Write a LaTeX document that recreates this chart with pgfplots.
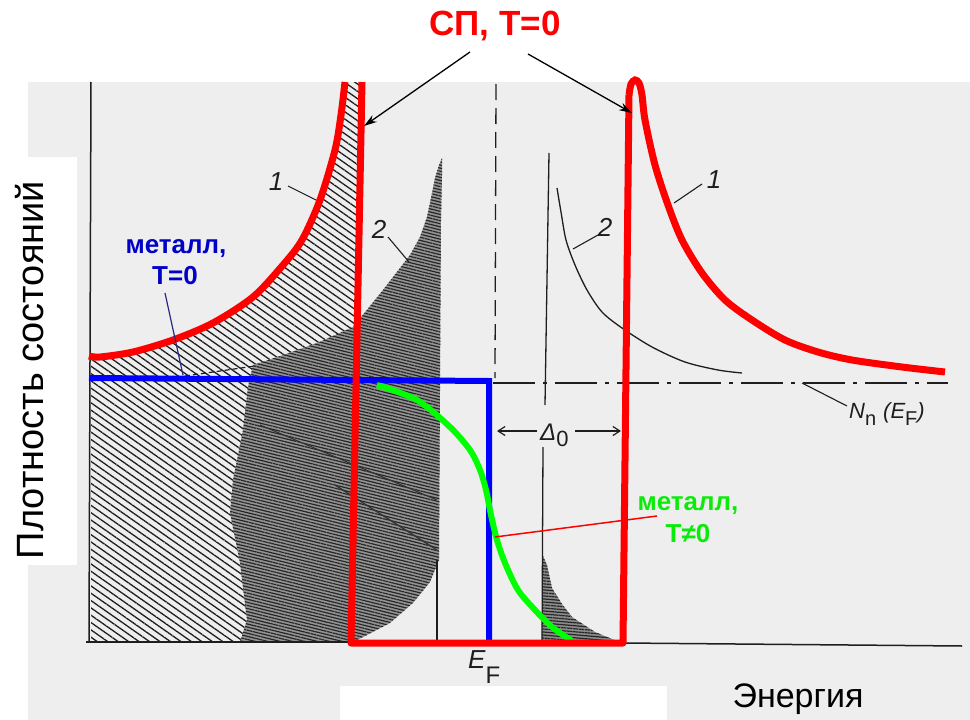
\documentclass[border=0pt]{standalone}
\usepackage{fontspec}
\setmainfont{Liberation Sans}
\usepackage{pgfplots}
\pgfplotsset{compat=1.18}
\usetikzlibrary{patterns.meta,arrows.meta}
\definecolor{bg}{RGB}{238,238,238}
\definecolor{myred}{RGB}{255,0,0}
\definecolor{myblue}{RGB}{0,0,255}
\definecolor{labblue}{RGB}{0,0,200}
\definecolor{mygreen}{RGB}{0,255,0}
\definecolor{labgreen}{RGB}{10,235,10}
\definecolor{navy}{RGB}{40,40,130}
\definecolor{ink}{RGB}{30,30,30}
\newcommand{\fs}[1]{\fontsize{#1}{#1}\selectfont}
\begin{document}
\begin{tikzpicture}
\begin{axis}[width=970pt,height=720pt,scale only axis,
  xmin=0,xmax=970,ymin=0,ymax=720,y dir=reverse,hide axis,clip=false]
% ---------- backgrounds
\addplot[draw=none,fill=white] coordinates {(0,0)(970,0)(970,720)(0,720)} -- cycle;
\addplot[draw=none,fill=bg] coordinates {(28,82)(970,82)(970,720)(28,720)} -- cycle;
\addplot[draw=none,fill=white] coordinates {(0,157)(77,157)(77,565)(0,565)} -- cycle;
\addplot[draw=none,fill=white] coordinates {(340,686)(667,686)(667,720)(340,720)} -- cycle;
% ---------- light hatched area (curve 1, below the gap)
\addplot[draw=none,pattern={Lines[angle=-35,distance=6pt,line width=1.3pt]},pattern color=ink]
 coordinates {(91,642)(91,358)(100,357)(133,352)(173,340)(213,323)(253,297)(283,265)(302,240)(320,200)(335,150)(341,115)(345,82)(360,82)(352,642)} -- cycle;
% ---------- dark hatched area (curve 2)
\addplot[draw=none,fill=black!42]
 coordinates {(253,365)(283,355)(317,343)(353,327)(383,290)(400,268)(410,255)(420,237)(427,217)(432,193)(435,178)(439,165)(442,158)(442,175)(441,220)(439,560)(430,582)(413,603)(390,623)(367,635)(353,642)(240,642)(247,620)(240,563)(230,513)(233,480)(243,430)(248,387)} -- cycle;
\addplot[draw=none,pattern={Lines[angle=-14,distance=3pt,line width=1.2pt]},pattern color=black!85]
 coordinates {(253,365)(283,355)(317,343)(353,327)(383,290)(400,268)(410,255)(420,237)(427,217)(432,193)(435,178)(439,165)(442,158)(442,175)(441,220)(439,560)(430,582)(413,603)(390,623)(367,635)(353,642)(240,642)(247,620)(240,563)(230,513)(233,480)(243,430)(248,387)} -- cycle;
% small dark area on the right
\addplot[draw=none,fill=black!45]
 coordinates {(543,556)(547,565)(552,588)(562,604)(572,617)(595,632)(612,639)(621,642)(542,642)} -- cycle;
\addplot[draw=none,pattern={Lines[angle=-5,distance=3pt,line width=1.2pt]},pattern color=black!85]
 coordinates {(543,556)(547,565)(552,588)(562,604)(572,617)(595,632)(612,639)(621,642)(542,642)} -- cycle;
% scan artefacts
\addplot[black!80,line width=1.3pt] coordinates {(335,485)(437,550)};
\addplot[black!80,line width=1.1pt] coordinates {(260,425)(437,500)};
\addplot[ink,line width=1.2pt,dash pattern=on 5pt off 3pt] coordinates {(185,376)(255,366)};
% ---------- black lines of the scanned figure
\addplot[ink,line width=1.5pt] coordinates {(91,82)(89,642)};
\addplot[ink,line width=1.5pt] coordinates {(86,642)(352,642)};
\addplot[ink,line width=1.5pt] coordinates {(623,643)(962,646)};
\addplot[ink,line width=1.3pt] coordinates {(437,560)(437,642)};
\addplot[ink,line width=1.3pt,dash pattern=on 16pt off 8pt] coordinates {(496,84)(495,378)};
\addplot[ink,line width=1.3pt,dash pattern=on 42pt off 8pt on 4pt off 8pt] coordinates {(493,383)(948,383)};
\addplot[ink,line width=1.3pt] coordinates {(549,153)(545,405)};
\addplot[ink,line width=1.3pt] coordinates {(543,447)(542,643)};
\addplot[ink,line width=1.3pt,smooth] coordinates {(557,188)(561,212)(566,240)(575,265)(587,290)(602,312)(622,328)(652,347)(685,362)(718,370)(742,373)};
% Delta_0 arrows
\addplot[ink,line width=1.2pt,-{Straight Barb[length=7pt,width=9pt]}] coordinates {(537,431)(497,431)};
\addplot[ink,line width=1.2pt,-{Straight Barb[length=7pt,width=9pt]}] coordinates {(575,431)(621,431)};
% leader lines of the scan
\addplot[ink,line width=1.1pt] coordinates {(288,186)(318,201)};
\addplot[ink,line width=1.1pt] coordinates {(388,237)(409,262)};
\addplot[ink,line width=1.1pt] coordinates {(702,184)(674,203)};
\addplot[ink,line width=1.1pt] coordinates {(598,235)(573,249)};
\addplot[ink,line width=1.1pt] coordinates {(802,383)(847,406)};
% ---------- metal, T=0 (blue)
\addplot[myblue,line width=6pt,line join=miter] coordinates {(89,378)(489,381)(489,643)};
% ---------- metal, T>0 (green)
\addplot[mygreen,line width=6pt,smooth] coordinates {(377,385)(417,400)(450,427)(470,450)(480,470)(486,490)(491,515)(497,540)(505,563)(518,590)(535,610)(552,627)(572,641)};
% ---------- superconductor, T=0 (red)
\addplot[myred,line width=7pt,smooth] coordinates {(89,356)(100,357)(133,352)(173,340)(213,323)(253,297)(283,265)(302,240)(320,200)(335,150)(341,115)(345,82)};
\addplot[myred,line width=7pt,line join=round] coordinates {(362,82)(351,643)(623,643)(629,95)};
\addplot[myred,line width=7pt,smooth] coordinates {(629,95)(631,84)(635,80)(639,83)(642,95)(645,120)(655,165)(668,205)(682,240)(702,273)(725,300)(752,320)(785,340)(818,352)(852,360)(902,367)(945,372)};
% ---------- annotation leaders and arrows
\addplot[navy,line width=1.2pt] coordinates {(165,293)(183,375)};
\addplot[myred,line width=1.5pt] coordinates {(495,537)(657,516)};
\addplot[black,line width=1.3pt,-{Stealth[length=13pt,width=8pt]}] coordinates {(470,52)(364,126)};
\addplot[black,line width=1.3pt,-{Stealth[length=13pt,width=8pt]}] coordinates {(528,54)(632,113)};
% ---------- texts
\node[text=myred,font=\fs{35}\bfseries,anchor=base] at (495,35) {СП, T=0};
\node[font=\fs{38},rotate=90,anchor=base] at (43,370) {Плотность состояний};
\node[font=\fs{34},anchor=base] at (798,707) {Энергия};
\node[text=labblue,font=\fs{26}\bfseries,anchor=base] at (176,253) {металл,};
\node[text=labblue,font=\fs{26}\bfseries,anchor=base] at (175,284) {T=0};
\node[text=labgreen,font=\fs{26}\bfseries,anchor=base] at (688,510) {металл,};
\node[text=labgreen,font=\fs{26}\bfseries,anchor=base] at (688,542) {T≠0};
\node[text=ink,font=\fs{26}\itshape,anchor=base] at (276,190) {1};
\node[text=ink,font=\fs{26}\itshape,anchor=base] at (379,238) {2};
\node[text=ink,font=\fs{26}\itshape,anchor=base] at (714,188) {1};
\node[text=ink,font=\fs{26}\itshape,anchor=base] at (605,236) {2};
\node[text=ink,font=\fs{26}\itshape,anchor=base west,inner sep=0pt] at (468,668) {E\raisebox{-15pt}{\upshape\fs{24}F}};
\node[text=ink,font=\fs{24}\itshape,anchor=base west,inner sep=0pt] at (540,440) {Δ\raisebox{-6pt}{\upshape\fs{22}0}};
\node[text=ink,font=\fs{22}\itshape,anchor=base west,inner sep=0pt] at (849,418) {N\raisebox{-7pt}{\upshape\fs{20}n}\hspace{7pt}(E\raisebox{-7pt}{\upshape\fs{20}F})};
\end{axis}
\end{tikzpicture}
\end{document}
